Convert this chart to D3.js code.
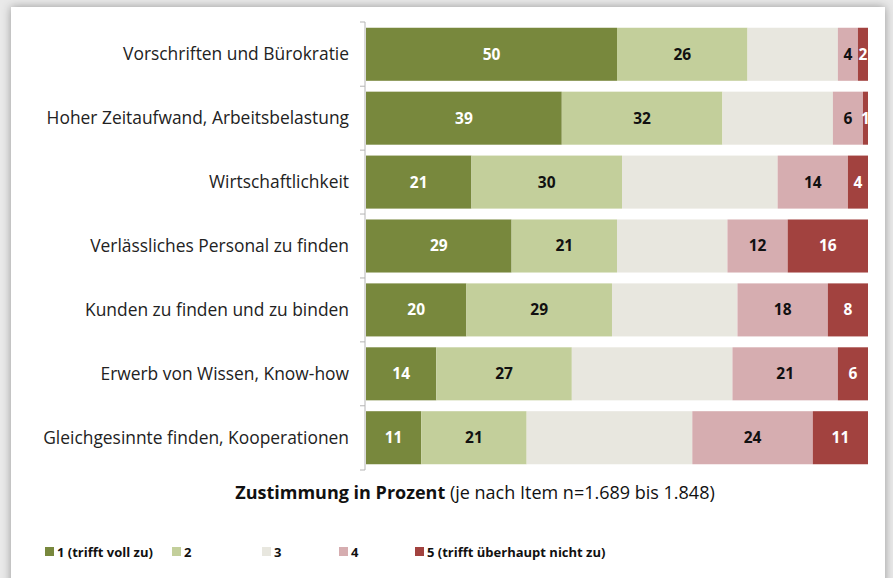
<!DOCTYPE html>
<html>
<head>
<meta charset="utf-8">
<script src="https://cdn.jsdelivr.net/npm/d3@7"></script>
<style>
  body { margin: 0; background: #e9e9e9; }
  svg { display: block; }
  text { font-family: "Open Sans", Lato, sans-serif; }
</style>
</head>
<body>
<div class="chart"></div>
<script>
var categories = [
  "Vorschriften und Bürokratie",
  "Hoher Zeitaufwand, Arbeitsbelastung",
  "Wirtschaftlichkeit",
  "Verlässliches Personal zu finden",
  "Kunden zu finden und zu binden",
  "Erwerb von Wissen, Know-how",
  "Gleichgesinnte finden, Kooperationen"
];
var levels = ["1", "2", "3", "4", "5"];
var legendLabels = ["1 (trifft voll zu)", "2", "3", "4", "5 (trifft überhaupt nicht zu)"];
var level1 = [50, 39, 21, 29, 20, 14, 11];
var level2 = [26, 32, 30, 21, 29, 27, 21];
var level3 = [18, 22, 31, 22, 25, 32, 33];
var level4 = [4, 6, 14, 12, 18, 21, 24];
var level5 = [2, 1, 4, 16, 8, 6, 11];
var colors = ["#78883d", "#c3cf9b", "#e8e7df", "#d6adb0", "#a2423f"];
var labelColors = ["#ffffff", "#111111", null, "#111111", "#ffffff"];

var width = 893, height = 578;
var margin = { top: 22, right: 25, bottom: 108, left: 366 };
var plotW = width - margin.left - margin.right,
  plotH = height - margin.top - margin.bottom;

var table = categories.map(function (c, i) {
  return { cat: c, "1": level1[i], "2": level2[i], "3": level3[i], "4": level4[i], "5": level5[i] };
});
var series = d3.stack().keys(levels)(table);

var svg = d3.select(".chart").append("svg")
  .attr("width", width).attr("height", height);

// card with shadow
var defs = svg.append("defs");
var f = defs.append("filter").attr("id", "shadow")
  .attr("x", "-5%").attr("y", "-5%").attr("width", "110%").attr("height", "110%");
f.append("feDropShadow").attr("dx", 0).attr("dy", 0)
  .attr("stdDeviation", 5).attr("flood-color", "#000").attr("flood-opacity", 0.35);
svg.append("rect").attr("x", 11).attr("y", 7).attr("width", 874).attr("height", 600)
  .attr("fill", "#fff").attr("filter", "url(#shadow)");

defs.append("clipPath").attr("id", "plotclip")
  .append("rect").attr("x", 0).attr("y", -5).attr("width", 502).attr("height", plotH + 10);

var g = svg.append("g").attr("transform", "translate(" + margin.left + "," + margin.top + ")");

var x = d3.scaleLinear().domain([0, 100]).range([0, 502]);
var y = d3.scaleBand().domain(categories).range([0, plotH]).paddingInner(0.17).paddingOuter(0.09);

var plot = g.append("g").attr("clip-path", "url(#plotclip)");

var layer = plot.selectAll(".layer").data(series).enter().append("g")
  .attr("fill", function (d, i) { return colors[i]; });

layer.selectAll("rect").data(function (d) { return d; }).enter().append("rect")
  .attr("x", function (d) { return x(d[0]); })
  .attr("y", function (d) { return y(d.data.cat); })
  .attr("width", function (d) { return x(d[1]) - x(d[0]); })
  .attr("height", y.bandwidth());

layer.each(function (s, i) {
  if (!labelColors[i]) return;
  d3.select(this).selectAll("text").data(s).enter().append("text")
    .attr("x", function (d) { return (x(d[0]) + x(d[1])) / 2; })
    .attr("y", function (d) { return y(d.data.cat) + y.bandwidth() / 2; })
    .attr("dy", "0.35em")
    .attr("text-anchor", "middle")
    .attr("font-size", 15.5)
    .attr("font-weight", "bold")
    .attr("fill", labelColors[i])
    .text(function (d) { return d.data[s.key]; });
});

// left axis with ticks at category boundaries
var step = y.step();
var axisG = g.append("g").attr("transform", "translate(-1,0)");
axisG.append("line").attr("x1", 0).attr("x2", 0).attr("y1", 0).attr("y2", plotH)
  .attr("stroke", "#b5b5b5");
var bounds = d3.range(categories.length + 1).map(function (i) {
  return y.range()[0] + y.paddingOuter() * step - (y.paddingInner() * step) / 2 + i * step;
});
bounds[0] = 0; bounds[bounds.length - 1] = plotH;
axisG.selectAll(".tk").data(bounds).enter().append("line")
  .attr("x1", -5).attr("x2", 0)
  .attr("y1", function (d) { return d; }).attr("y2", function (d) { return d; })
  .attr("stroke", "#b5b5b5");

g.selectAll(".cat").data(categories).enter().append("text")
  .attr("x", -17)
  .attr("y", function (d) { return y(d) + y.bandwidth() / 2; })
  .attr("dy", "0.35em")
  .attr("text-anchor", "end")
  .attr("font-size", 17.4)
  .attr("fill", "#222")
  .text(function (d) { return d; });

// axis title
var title = svg.append("text").attr("x", 475).attr("y", 499)
  .attr("text-anchor", "middle").attr("font-size", 18).attr("fill", "#111");
title.append("tspan").attr("font-weight", "bold").text("Zustimmung in Prozent");
title.append("tspan").text(" (je nach Item n=1.689 bis 1.848)");

// legend
var legendX = [45, 172, 262, 339, 415];
var legend = svg.selectAll(".lg").data(legendLabels).enter().append("g")
  .attr("transform", function (d, i) { return "translate(" + legendX[i] + ",552)"; });
legend.append("rect").attr("x", 0).attr("y", -5).attr("width", 9).attr("height", 9)
  .attr("fill", function (d, i) { return colors[i]; });
legend.append("text").attr("x", 12).attr("dy", "0.35em")
  .attr("font-size", 13).attr("font-weight", "bold").attr("fill", "#111")
  .text(function (d) { return d; });
</script>
</body>
</html>
